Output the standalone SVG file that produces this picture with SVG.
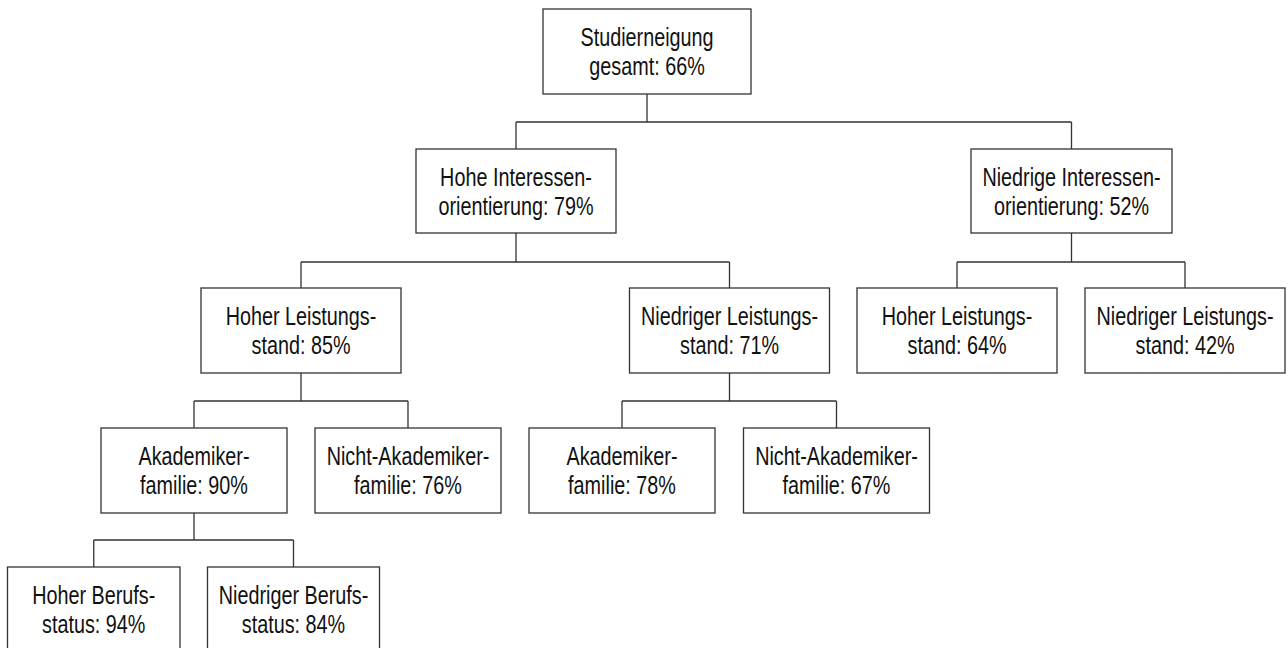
<svg xmlns="http://www.w3.org/2000/svg" width="1288" height="648" viewBox="0 0 1288 648">
<style>
.box{fill:#fff;stroke:#333;stroke-width:1.3}
.c{fill:none;stroke:#333;stroke-width:1.3}
text{font-family:"Liberation Sans",Arial,sans-serif;font-size:26px;fill:#111;text-anchor:middle}
</style>
<rect width="1288" height="648" fill="#fff"/>
<g id="connectors">
<path class="c" d="M647,94 V122 M516,122 H1071.5 M516,122 V149 M1071.5,122 V149"/>
<path class="c" d="M516,233 V262 M301,262 H729.5 M301,262 V288 M729.5,262 V288"/>
<path class="c" d="M1071.5,233 V262 M957,262 H1185 M957,262 V288 M1185,262 V288"/>
<path class="c" d="M301,373 V401 M194,401 H408 M194,401 V428 M408,401 V428"/>
<path class="c" d="M729.5,373 V401 M622,401 H836.5 M622,401 V428 M836.5,401 V428"/>
<path class="c" d="M194,513 V540 M93.75,540 H293.5 M93.75,540 V567 M293.5,540 V567"/>
</g>
<g id="root">
<rect class="box" x="543" y="9" width="208" height="85"/>
<g transform="matrix(0.7615 0 0 1 647 0)"><text x="0" y="46.5">Studierneigung</text><text x="0" y="75">gesamt: 66%</text></g>
</g>
<g id="hohe-interessen">
<rect class="box" x="416" y="149" width="200" height="84"/>
<g transform="matrix(0.7615 0 0 1 516 0)"><text x="0" y="186.5">Hohe Interessen-</text><text x="0" y="215">orientierung: 79%</text></g>
</g>
<g id="niedrige-interessen">
<rect class="box" x="971" y="149" width="201" height="84"/>
<g transform="matrix(0.7615 0 0 1 1071.5 0)"><text x="0" y="186.5">Niedrige Interessen-</text><text x="0" y="215">orientierung: 52%</text></g>
</g>
<g id="hoher-leistung-85">
<rect class="box" x="201" y="288" width="200" height="85"/>
<g transform="matrix(0.7615 0 0 1 301 0)"><text x="0" y="325">Hoher Leistungs-</text><text x="0" y="354">stand: 85%</text></g>
</g>
<g id="niedriger-leistung-71">
<rect class="box" x="629.5" y="288" width="200" height="85"/>
<g transform="matrix(0.7615 0 0 1 729.5 0)"><text x="0" y="325">Niedriger Leistungs-</text><text x="0" y="354">stand: 71%</text></g>
</g>
<g id="hoher-leistung-64">
<rect class="box" x="857" y="288" width="200" height="85"/>
<g transform="matrix(0.7615 0 0 1 957 0)"><text x="0" y="325">Hoher Leistungs-</text><text x="0" y="354">stand: 64%</text></g>
</g>
<g id="niedriger-leistung-42">
<rect class="box" x="1085" y="288" width="200" height="85"/>
<g transform="matrix(0.7615 0 0 1 1185 0)"><text x="0" y="325">Niedriger Leistungs-</text><text x="0" y="354">stand: 42%</text></g>
</g>
<g id="akademiker-90">
<rect class="box" x="101" y="428" width="186" height="85"/>
<g transform="matrix(0.7615 0 0 1 194 0)"><text x="0" y="465">Akademiker-</text><text x="0" y="494">familie: 90%</text></g>
</g>
<g id="nicht-akademiker-76">
<rect class="box" x="315" y="428" width="186" height="85"/>
<g transform="matrix(0.7615 0 0 1 408 0)"><text x="0" y="465">Nicht-Akademiker-</text><text x="0" y="494">familie: 76%</text></g>
</g>
<g id="akademiker-78">
<rect class="box" x="529" y="428" width="186" height="85"/>
<g transform="matrix(0.7615 0 0 1 622 0)"><text x="0" y="465">Akademiker-</text><text x="0" y="494">familie: 78%</text></g>
</g>
<g id="nicht-akademiker-67">
<rect class="box" x="743.5" y="428" width="186" height="85"/>
<g transform="matrix(0.7615 0 0 1 836.5 0)"><text x="0" y="465">Nicht-Akademiker-</text><text x="0" y="494">familie: 67%</text></g>
</g>
<g id="hoher-beruf-94">
<rect class="box" x="7.5" y="567" width="172.5" height="86"/>
<g transform="matrix(0.7615 0 0 1 93.75 0)"><text x="0" y="604">Hoher Berufs-</text><text x="0" y="633">status: 94%</text></g>
</g>
<g id="niedriger-beruf-84">
<rect class="box" x="207.5" y="567" width="172" height="86"/>
<g transform="matrix(0.7615 0 0 1 293.5 0)"><text x="0" y="604">Niedriger Berufs-</text><text x="0" y="633">status: 84%</text></g>
</g>
</svg>
